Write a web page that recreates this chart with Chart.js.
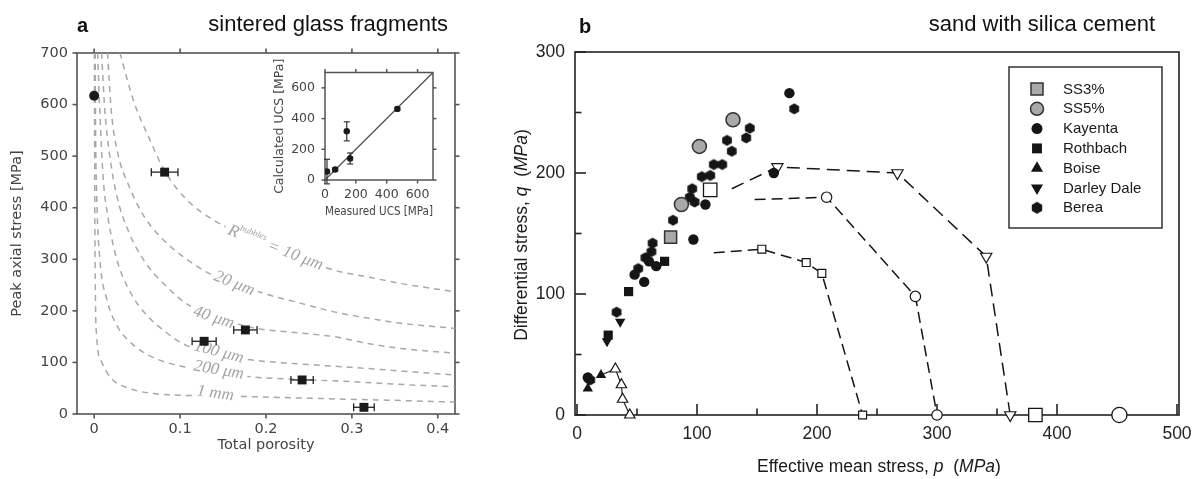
<!DOCTYPE html>
<html><head><meta charset="utf-8">
<script src="https://cdn.jsdelivr.net/npm/chart.js@4.4.1/dist/chart.umd.min.js"></script>
<style>
html,body{margin:0;padding:0;background:#fff;}
#wrap{position:relative;width:1201px;height:479px;overflow:hidden;background:#fff;}
canvas{position:absolute;}
#ca{left:0;top:0;}
#cc{left:240px;top:55px;}
#cb{left:470px;top:0;}
</style></head><body>
<div id="wrap">
<canvas id="ca" width="470" height="479"></canvas>
<canvas id="cb" width="731" height="479"></canvas>
<canvas id="cc" width="205" height="175"></canvas>
</div>
<script>
// ---------------- Panel a data ----------------
const xTicksA = [0, 0.1, 0.2, 0.3, 0.4];
const yTicksA = [0, 100, 200, 300, 400, 500, 600, 700];
const porosity    = [0.0, 0.082, 0.128, 0.176, 0.242, 0.314];
const peakStress  = [617, 469, 141, 163, 66, 13];
const porosityErr = [0, 0.0155, 0.014, 0.0136, 0.013, 0.012];
const curve10um  = [[0.030,700],[0.0455,609],[0.065,531],[0.0825,470],[0.108,415],[0.139,376],[0.2,328],[0.279,279],[0.318,266],[0.357,253],[0.42,237]];
const curve20um  = [[0.0155,700],[0.020,586],[0.028,502],[0.040,444],[0.057,386],[0.0786,341],[0.106,302],[0.137,270],[0.197,234],[0.240,215],[0.279,198],[0.318,186],[0.357,176],[0.42,166]];
const curve40um  = [[0.0086,700],[0.0125,586],[0.018,502],[0.026,425],[0.040,354],[0.059,295],[0.0825,250],[0.110,211],[0.14,190],[0.182,168],[0.240,157],[0.279,150],[0.318,137],[0.357,127],[0.42,118]];
const curve100um = [[0.004,700],[0.0066,586],[0.0105,457],[0.0163,379],[0.026,302],[0.0417,237],[0.061,192],[0.0825,160],[0.106,134],[0.14,118],[0.182,105],[0.24,97],[0.2985,90.5],[0.36,83],[0.42,75.6]];
const curve200um = [[0.0012,700],[0.0016,560],[0.003,420],[0.0066,300],[0.0145,224],[0.026,173],[0.0455,134],[0.071,108],[0.098,94],[0.14,82],[0.182,72],[0.24,67],[0.2985,62.7],[0.36,57],[0.42,53]];
const curve1mm   = [[0.0003,700],[0.0006,457],[0.0012,264],[0.0028,153],[0.0086,101],[0.020,69],[0.040,50],[0.067,40],[0.094,37],[0.13,35],[0.182,33.6],[0.24,31],[0.2985,28.5],[0.36,26],[0.42,23]];

// ---------------- Inset data ----------------
const ucsTicks      = [0, 200, 400, 600];
const measuredUCS   = [13, 66, 141, 163, 469];
const calculatedUCS = [55, 68, 317, 140, 463];
const calculatedErr = [80, 10, 62, 36, 10];
const oneToOne      = [0, 700];

// ---------------- Panel b data ----------------
const xTicksB = [0, 100, 200, 300, 400, 500];
const xMinorB = [50, 150, 250, 350, 450];
const yTicksB = [0, 100, 200, 300];
const yMinorB = [50, 150, 250];
const ss3       = [[78,147]];
const ss5       = [[87,174],[102,222],[130,244]];
const kayenta   = [[9,31],[48,116],[56,110],[60,127],[66,123],[97,145],[107,174],[164,200],[177,266]];
const rothbach  = [[26,66],[43,102],[73,127]];
const boise     = [[9,22],[20,33]];
const darleyDale= [[25,61],[36,77]];
const berea     = [[11,29],[33,85],[51,121],[57,130],[62,135],[63,142],[80,161],[94,180],[96,187],[98,176],[104,197],[111,198],[114,207],[121,207],[125,227],[129,218],[141,229],[144,237],[181,253]];
const boisePath = [[20,33],[32,38],[37,25],[38,13],[44,0]];
const ddPath    = [[129,187],[167,205],[267,200],[341,131],[361,0]];
const circPath  = [[148,178],[208,180],[282,98],[300,0]];
const sqPath    = [[114,134],[154,137],[191,126],[204,117],[238,0]];
const bigSquares= [[111,186],[382,0]];
const bigCircles= [[452,0]];

// ---------------- helpers ----------------
const pairs = a => a.map(([x,y]) => ({x, y}));
const zip = (xs, ys) => xs.map((x,i) => ({x, y: ys[i]}));

function hexImg(r, fill){
  const c = document.createElement('canvas'); const s = Math.ceil(2*r+2);
  c.width = s; c.height = s; const g = c.getContext('2d');
  g.beginPath();
  for (let i=0;i<6;i++){ const a = Math.PI/6 + i*Math.PI/3; g.lineTo(s/2 + r*Math.cos(a), s/2 + r*Math.sin(a)); }
  g.closePath(); g.fillStyle = fill; g.fill(); return c;
}
function drawMarker(ctx, style, x, y, r, fill, stroke, bw, rot){
  ctx.save(); ctx.translate(x, y);
  if (style instanceof HTMLCanvasElement){ ctx.drawImage(style, -style.width/2, -style.height/2); ctx.restore(); return; }
  if (rot) ctx.rotate(rot*Math.PI/180);
  ctx.beginPath();
  if (style === 'circle') ctx.arc(0,0,r,0,2*Math.PI);
  else if (style === 'rect'){ const s = r*Math.SQRT1_2; ctx.rect(-s,-s,2*s,2*s); }
  else if (style === 'triangle'){ ctx.moveTo(0,-r); ctx.lineTo(r*0.866, r*0.5); ctx.lineTo(-r*0.866, r*0.5); ctx.closePath(); }
  ctx.fillStyle = fill; ctx.fill();
  if (bw){ ctx.lineWidth = bw; ctx.strokeStyle = stroke; ctx.stroke(); }
  ctx.restore();
}
function drawRuns(ctx, runs, x, y, align, angle, color){
  ctx.save(); ctx.translate(x, y); ctx.rotate((angle||0)*Math.PI/180);
  let w = 0; runs.forEach(r => { ctx.font = r.font; w += ctx.measureText(r.t).width; });
  let cx = align === 'center' ? -w/2 : align === 'right' ? -w : 0;
  ctx.textBaseline = 'middle'; ctx.textAlign = 'left'; ctx.fillStyle = color;
  runs.forEach(r => { ctx.font = r.font; ctx.fillText(r.t, cx, r.dy||0); cx += ctx.measureText(r.t).width; });
  ctx.restore();
  return w;
}

function makeFrame(cfg){
  return { id: 'frame', beforeDatasetsDraw(chart){
    const {ctx, chartArea: a, scales: {x: xs, y: ys}} = chart;
    ctx.save(); ctx.strokeStyle = cfg.color; ctx.lineWidth = cfg.width;
    ctx.strokeRect(a.left, a.top, a.right-a.left, a.bottom-a.top);
    const d = cfg.inward ? -1 : 1;
    const seg = (x1,y1,x2,y2) => { ctx.beginPath(); ctx.moveTo(x1,y1); ctx.lineTo(x2,y2); ctx.stroke(); };
    const doX = (vals, len) => vals.forEach(v => { const p = xs.getPixelForValue(v);
      seg(p, a.bottom, p, a.bottom + d*len); if (cfg.mirror) seg(p, a.top, p, a.top - d*len); });
    const doY = (vals, len) => vals.forEach(v => { const p = ys.getPixelForValue(v);
      seg(a.left, p, a.left - d*len, p); if (cfg.mirror) seg(a.right, p, a.right + d*len, p); });
    doX(cfg.xTicks, cfg.len); doY(cfg.yTicks, cfg.len);
    if (cfg.xMinor) doX(cfg.xMinor, cfg.minorLen);
    if (cfg.yMinor) doY(cfg.yMinor, cfg.minorLen);
    ctx.restore();
  }};
}
function makeErr(cfg){
  return { id: 'errbars', beforeDatasetDraw(chart, args){
    const ds = chart.data.datasets[args.index];
    if (!ds.errX && !ds.errY) return;
    const {ctx, scales: {x, y}} = chart;
    const seg = (x1,y1,x2,y2) => { ctx.beginPath(); ctx.moveTo(x1,y1); ctx.lineTo(x2,y2); ctx.stroke(); };
    ctx.save(); ctx.strokeStyle = cfg.color; ctx.lineWidth = cfg.width;
    ds.data.forEach((pt, j) => {
      const px = x.getPixelForValue(pt.x), py = y.getPixelForValue(pt.y);
      if (ds.errX && ds.errX[j] > 0){
        const x1 = x.getPixelForValue(pt.x - ds.errX[j]), x2 = x.getPixelForValue(pt.x + ds.errX[j]);
        seg(x1,py,x2,py); seg(x1,py-cfg.cap,x1,py+cfg.cap); seg(x2,py-cfg.cap,x2,py+cfg.cap);
      }
      if (ds.errY && ds.errY[j] > 0){
        const y1 = y.getPixelForValue(pt.y - ds.errY[j]), y2 = y.getPixelForValue(pt.y + ds.errY[j]);
        seg(px,y1,px,y2); seg(px-cfg.cap,y1,px+cfg.cap,y1); seg(px-cfg.cap,y2,px+cfg.cap,y2);
      }
    });
    ctx.restore();
  }};
}
function makeText(items){
  return { id: 'texts', afterDraw(chart){
    const ctx = chart.ctx;
    items.forEach(it => drawRuns(ctx, it.runs, it.x, it.y, it.align, it.angle, it.color));
  }};
}
const fixTicks = arr => (s => { s.ticks = arr.map(v => ({value: v})); });

// ---------------- Panel a chart ----------------
const FA = '"DejaVu Sans", sans-serif';
const grayA = '#444';
const serifI = s => `italic ${s}px "Liberation Serif", "DejaVu Serif", serif`;
const curveStyle = { showLine: true, pointRadius: 0, borderColor: '#a8a8a8', borderWidth: 1.5, borderDash: [6,5], cubicInterpolationMode: 'monotone', fill: false, order: 0 };
const curveLabels = [
  {at: [0.211, 322], angle: 21, runs: [{t:'R', font: serifI(17)}, {t:'bubbles', font: serifI(9), dy: -6}, {t:' = 10 μm', font: serifI(17)}]},
  {at: [0.163, 253], angle: 22, runs: [{t:'20 μm', font: serifI(17)}]},
  {at: [0.139, 187], angle: 18, runs: [{t:'40 μm', font: serifI(17)}]},
  {at: [0.145, 120], angle: 15, runs: [{t:'100 μm', font: serifI(17)}]},
  {at: [0.145, 85],  angle: 10, runs: [{t:'200 μm', font: serifI(17)}]},
  {at: [0.141, 40],  angle: 8,  runs: [{t:'1 mm', font: serifI(17)}]}
];
// labels are drawn right after the last curve (dataset 0), before the samples on top
const curveLabelPlugin = { id: 'clabels', afterDatasetDraw(chart, args){
  if (args.index !== 0) return;
  const {ctx, scales: {x, y}} = chart;
  curveLabels.forEach(l => {
    const px = x.getPixelForValue(l.at[0]), py = y.getPixelForValue(l.at[1]);
    let w = 0; l.runs.forEach(r => { ctx.font = r.font; w += ctx.measureText(r.t).width; });
    ctx.save(); ctx.translate(px, py); ctx.rotate(l.angle*Math.PI/180);
    ctx.fillStyle = '#fff'; ctx.fillRect(-w/2-4, -6.5, w+8, 13); ctx.restore();
    drawRuns(ctx, l.runs, px, py, 'center', l.angle, '#a3a3a3');
  });
}};

new Chart(document.getElementById('ca'), {
  type: 'scatter',
  data: { datasets: [
    Object.assign({data: pairs(curve10um)}, curveStyle),
    Object.assign({data: pairs(curve20um)}, curveStyle),
    Object.assign({data: pairs(curve40um)}, curveStyle),
    Object.assign({data: pairs(curve100um)}, curveStyle),
    Object.assign({data: pairs(curve200um)}, curveStyle),
    Object.assign({data: pairs(curve1mm)}, curveStyle),
    { data: zip(porosity, peakStress), errX: porosityErr, order: -1,
      pointStyle: porosity.map(p => p === 0 ? 'circle' : 'rect'),
      pointRadius: porosity.map(p => p === 0 ? 5 : 6.3),
      pointBackgroundColor: '#1a1a1a', pointBorderColor: '#1a1a1a', pointBorderWidth: 0 }
  ]},
  options: {
    responsive: false, animation: false, events: [],
    layout: { padding: {left: 0, top: 53, right: 15, bottom: 0}, autoPadding: false },
    plugins: { legend: {display: false}, tooltip: {enabled: false} },
    scales: {
      x: { type: 'linear', min: -0.02, max: 0.42, afterBuildTicks: fixTicks(xTicksA),
           afterFit: s => { s.height = 65; },
           grid: {display: false, drawTicks: false}, border: {display: false},
           ticks: { padding: 7, color: grayA, font: {family: FA, size: 14.5}, maxRotation: 0, callback: v => String(+v.toFixed(2)) },
           title: { display: true, text: 'Total porosity', color: grayA, font: {family: FA, size: 14.5}, padding: {top: 0, bottom: 25} } },
      y: { type: 'linear', min: 0, max: 700, afterBuildTicks: fixTicks(yTicksA),
           afterFit: s => { s.width = 77; },
           grid: {display: false, drawTicks: false}, border: {display: false},
           ticks: { padding: 9, color: grayA, font: {family: FA, size: 14.5} },
           title: { display: true, text: 'Peak axial stress [MPa]', color: grayA, font: {family: FA, size: 14.5}, padding: {top: 9, bottom: 0} } }
    }
  },
  plugins: [
    makeFrame({color: '#555', width: 1.6, len: 4.5, mirror: true, inward: false, xTicks: xTicksA, yTicks: yTicksA}),
    makeErr({color: '#222', width: 1.3, cap: 4}),
    curveLabelPlugin,
    makeText([
      {runs: [{t: 'a', font: 'bold 20px "Liberation Sans", Arial, sans-serif'}], x: 77, y: 26, align: 'left', color: '#111'},
      {runs: [{t: 'sintered glass fragments', font: '22px "Liberation Sans", Arial, sans-serif'}], x: 448, y: 25, align: 'right', color: '#111'}
    ])
  ]
});

// ---------------- Inset chart ----------------
new Chart(document.getElementById('cc'), {
  type: 'scatter',
  data: { datasets: [
    { data: zip(measuredUCS, calculatedUCS), errY: calculatedErr, pointStyle: 'circle', pointRadius: 3.2,
      pointBackgroundColor: '#1a1a1a', pointBorderWidth: 0 },
    { data: zip(oneToOne, oneToOne), showLine: true, pointRadius: 0, borderColor: '#555', borderWidth: 1.3 }
  ]},
  options: {
    responsive: false, animation: false, events: [],
    layout: { padding: {left: 0, top: 17, right: 12, bottom: 0}, autoPadding: false },
    plugins: { legend: {display: false}, tooltip: {enabled: false} },
    scales: {
      x: { type: 'linear', min: 0, max: 700, afterBuildTicks: fixTicks(ucsTicks), afterFit: s => { s.height = 50; },
           grid: {display: false, drawTicks: false}, border: {display: false},
           ticks: { padding: 7.5, color: grayA, font: {family: FA, size: 12.5}, maxRotation: 0 },
           title: { display: true, text: 'Measured UCS [MPa]', color: grayA, font: {family: FA, size: 12.5}, padding: {top: 0, bottom: 10.5} } },
      y: { type: 'linear', min: 0, max: 700, afterBuildTicks: fixTicks(ucsTicks), afterFit: s => { s.width = 85; },
           grid: {display: false, drawTicks: false}, border: {display: false},
           ticks: { padding: 10, color: grayA, font: {family: FA, size: 12.5} },
           title: { display: true, text: 'Calculated UCS [MPa]', color: grayA, font: {family: FA, size: 12.5}, padding: {top: 32.5, bottom: 0} } }
    }
  },
  plugins: [
    makeFrame({color: '#555', width: 1.5, len: 3.5, mirror: true, inward: false, xTicks: ucsTicks, yTicks: ucsTicks}),
    makeErr({color: '#333', width: 1.2, cap: 3})
  ]
});

// ---------------- Panel b chart ----------------
const FB = '"Liberation Sans", Arial, Helvetica, sans-serif';
const ink = '#151515';
const hexPlot = hexImg(5.6, ink), hexLeg = hexImg(6, ink);
const dashStyle = { showLine: true, borderColor: ink, borderWidth: 1.5, borderDash: [11,6], pointBackgroundColor: '#fff', pointBorderColor: ink, pointBorderWidth: 1.2, clip: false };
const firstHidden = r => (c => c.dataIndex === 0 ? 0 : r);
const dsB = [
  { label: 'SS3%', data: pairs(ss3), pointStyle: 'rect', pointRadius: 8.5, pointBackgroundColor: '#a9a9a9', pointBorderColor: '#333', pointBorderWidth: 1.5, legendR: 8.5, clip: false, order: 1 },
  { label: 'SS5%', data: pairs(ss5), pointStyle: 'circle', pointRadius: 7, pointBackgroundColor: '#a9a9a9', pointBorderColor: '#333', pointBorderWidth: 1.5, legendR: 6.5, clip: false, order: 1 },
  { label: 'Kayenta', data: pairs(kayenta), pointStyle: 'circle', pointRadius: 5.2, pointBackgroundColor: ink, pointBorderWidth: 0, legendR: 5.5, clip: false, order: 3 },
  { label: 'Rothbach', data: pairs(rothbach), pointStyle: 'rect', pointRadius: 6.5, pointBackgroundColor: ink, pointBorderWidth: 0, legendR: 7, clip: false, order: 2 },
  { label: 'Boise', data: pairs(boise), pointStyle: 'triangle', pointRadius: 6, pointBackgroundColor: ink, pointBorderWidth: 0, legendR: 7, clip: false, order: 2 },
  { label: 'Darley Dale', data: pairs(darleyDale), pointStyle: 'triangle', pointRotation: 180, pointRadius: 6, pointBackgroundColor: ink, pointBorderWidth: 0, legendR: 7, clip: false, order: 2 },
  { label: 'Berea', data: pairs(berea), pointStyle: hexPlot, pointRadius: 5.5, pointBackgroundColor: ink, pointBorderWidth: 0, legendImg: hexLeg, clip: false, order: 3 },
  Object.assign({ data: pairs(ddPath), pointStyle: 'triangle', pointRotation: 180, pointRadius: firstHidden(6.5), order: 5 }, dashStyle, {borderDash: [13,7]}),
  Object.assign({ data: pairs(circPath), pointStyle: 'circle', pointRadius: firstHidden(5.2), order: 5 }, dashStyle),
  Object.assign({ data: pairs(sqPath), pointStyle: 'rect', pointRadius: firstHidden(5.6), order: 5 }, dashStyle),
  Object.assign({ data: pairs(boisePath), pointStyle: 'triangle', pointRadius: firstHidden(6), order: 4 }, dashStyle, {borderDash: [], borderWidth: 1.1}),
  { data: pairs(bigSquares), pointStyle: 'rect', pointRadius: 9.5, pointBackgroundColor: '#fff', pointBorderColor: ink, pointBorderWidth: 1.3, clip: false, order: 4 },
  { data: pairs(bigCircles), pointStyle: 'circle', pointRadius: 7.6, pointBackgroundColor: '#fff', pointBorderColor: ink, pointBorderWidth: 1.3, clip: false, order: 4 }
];
const legendPlugin = { id: 'legendBox', afterDraw(chart){
  const {ctx, chartArea: a} = chart;
  const right = a.right - 17, top = a.top + 15, w = 153, h = 161;
  const left = right - w;
  ctx.save(); ctx.strokeStyle = '#333'; ctx.lineWidth = 1.5; ctx.strokeRect(left, top, w, h);
  const items = chart.data.datasets.filter(d => d.label);
  items.forEach((d, i) => {
    const y = top + 22 + i*19.8, mx = left + 28;
    drawMarker(ctx, d.legendImg || d.pointStyle, mx, y, d.legendR, d.pointBackgroundColor, d.pointBorderColor, d.pointBorderWidth, d.pointRotation);
    ctx.font = '15px ' + FB; ctx.fillStyle = '#1a1a1a'; ctx.textBaseline = 'middle'; ctx.textAlign = 'left';
    ctx.fillText(d.label, left + 54, y + 0.5);
  });
  ctx.restore();
}};
const fB = (s, it) => `${it ? 'italic ' : ''}${s}px ${FB}`;
new Chart(document.getElementById('cb'), {
  type: 'scatter',
  data: { datasets: dsB },
  options: {
    responsive: false, animation: false, events: [],
    layout: { padding: {left: 0, top: 52, right: 22, bottom: 0}, autoPadding: false },
    plugins: { legend: {display: false}, tooltip: {enabled: false} },
    scales: {
      x: { type: 'linear', min: -1.67, max: 501.67, afterBuildTicks: fixTicks(xTicksB), afterFit: s => { s.height = 64; },
           grid: {display: false, drawTicks: false}, border: {display: false},
           ticks: { padding: 9, color: '#222', font: {family: FB, size: 17.5}, maxRotation: 0 } },
      y: { type: 'linear', min: 0, max: 300, afterBuildTicks: fixTicks(yTicksB), afterFit: s => { s.width = 105; },
           grid: {display: false, drawTicks: false}, border: {display: false},
           ticks: { padding: 10, color: '#222', font: {family: FB, size: 17.5} } }
    }
  },
  plugins: [
    makeFrame({color: '#222', width: 1.6, len: 11, minorLen: 6.5, mirror: false, inward: true, xTicks: xTicksB, yTicks: yTicksB, xMinor: xMinorB, yMinor: yMinorB}),
    legendPlugin,
    makeText([
      {runs: [{t: 'b', font: 'bold 20px ' + FB}], x: 109, y: 27, align: 'left', color: '#111'},
      {runs: [{t: 'sand with silica cement', font: fB(22)}], x: 685, y: 25, align: 'right', color: '#111'},
      {runs: [{t: 'Effective mean stress, ', font: fB(17.5)}, {t: 'p', font: fB(17.5, true)}, {t: '  (', font: fB(17.5)}, {t: 'MPa', font: fB(17.5, true)}, {t: ')', font: fB(17.5)}], x: 409, y: 467, align: 'center', color: '#1a1a1a'},
      {runs: [{t: 'Differential stress, ', font: fB(17.5)}, {t: 'q', font: fB(17.5, true)}, {t: '  (', font: fB(17.5)}, {t: 'MPa', font: fB(17.5, true)}, {t: ')', font: fB(17.5)}], x: 52, y: 235, align: 'center', angle: -90, color: '#1a1a1a'}
    ])
  ]
});
</script>
</body></html>
